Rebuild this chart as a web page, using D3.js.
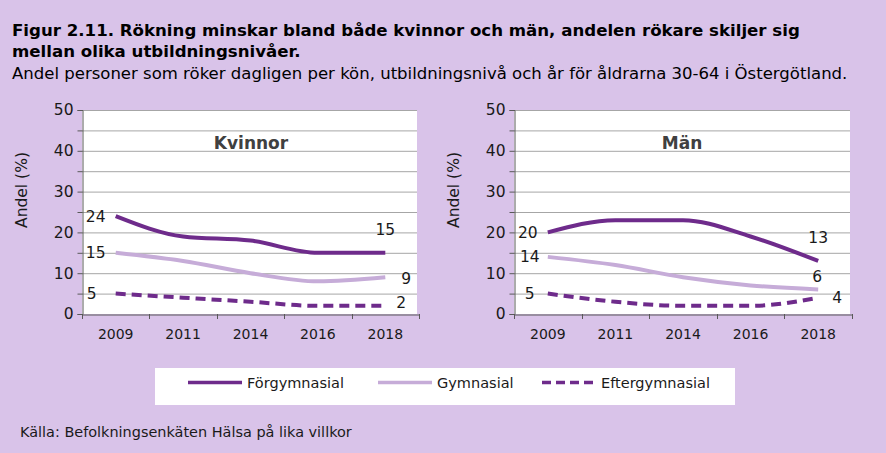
<!DOCTYPE html>
<html><head><meta charset="utf-8">
<script src="https://cdn.jsdelivr.net/npm/d3@7"></script>
<style>
html,body{margin:0;padding:0;background:#d9c3e9;}
svg{display:block;}
text{font-family:"DejaVu Sans",Verdana,sans-serif;}
</style></head>
<body>
<svg id="chart" width="886" height="453"></svg>
<script>
// ---- data ----
const years = ["2009","2011","2014","2016","2018"];
const seriesNames = ["Förgymnasial","Gymnasial","Eftergymnasial"];
const panelTitles = ["Kvinnor","Män"];
const kvinnorForgymnasial = [24,19,18,15,15];
const kvinnorGymnasial = [15,13,10,8,9];
const kvinnorEftergymnasial = [5,4,3,2,2];
const manForgymnasial = [20,23,23,19,13];
const manGymnasial = [14,12,9,7,6];
const manEftergymnasial = [5,3,2,2,4];
const yTicks = [0,10,20,30,40,50];
const yMinor = [5,15,25,35,45];
const titleLines = ["Figur 2.11. Rökning minskar bland både kvinnor och män, andelen rökare skiljer sig","mellan olika utbildningsnivåer."];
const subtitle = "Andel personer som röker dagligen per kön, utbildningsnivå och år för åldrarna 30-64 i Östergötland.";
const source = "Källa: Befolkningsenkäten Hälsa på lika villkor";
const yTitle = "Andel (%)";

// ---- style ----
const colors = ["#6e2b8b","#c6acd8","#6e2b8b"];
const dashes = [null,null,"10,6"];
const svg = d3.select("#chart");
const W=886,H=453;
svg.append("rect").attr("width",W).attr("height",H).attr("fill","#d9c3e9");

function fitText(sel, target){
  const n = sel.node(); const fs = parseFloat(sel.attr("font-size"));
  const w = n.getComputedTextLength();
  const nf = fs*target/w;
  sel.attr("font-size", nf.toFixed(2));
  return nf;
}
const tfs = fitText(svg.append("text").attr("x",12).attr("y",36).attr("font-size",16).attr("font-weight","bold").attr("fill","#000").text(titleLines[0]), 788);
svg.append("text").attr("x",12).attr("y",57).attr("font-size",tfs.toFixed(2)).attr("font-weight","bold").attr("fill","#000").text(titleLines[1]);
fitText(svg.append("text").attr("x",12).attr("y",79).attr("font-size",16).attr("fill","#000").text(subtitle), 836);
fitText(svg.append("text").attr("x",20).attr("y",437).attr("font-size",14).attr("fill","#1a1a1a").text(source), 332);

const panels = [
  {x0:82, x1:419, title:panelTitles[0], titleX:251, ytx:27,
   data:[kvinnorForgymnasial,kvinnorGymnasial,kvinnorEftergymnasial],
   off:[[-20,0,0,-23],[-20,0,21,1],[-24,0,16,-3]]},
  {x0:514, x1:852, title:panelTitles[1], titleX:682, ytx:459,
   data:[manForgymnasial,manGymnasial,manEftergymnasial],
   off:[[-20,0,0,-23],[-18,0,-1,-12.5],[-18,0,19,0]]}
];
const yTop=110, yBot=314;
const y = d3.scaleLinear().domain([0,50]).range([yBot,yTop]);

panels.forEach(p=>{
  const g = svg.append("g");
  const x = d3.scaleBand().domain(years).range([p.x0,p.x1]).padding(0);
  const cx = d=>x(d)+x.bandwidth()/2;
  g.append("rect").attr("x",p.x0).attr("y",yTop).attr("width",p.x1-p.x0-2).attr("height",yBot-yTop).attr("fill","#fff");
  g.selectAll(".grid").data(yTicks.concat(yMinor).filter(v=>v>0)).enter().append("line")
    .attr("x1",p.x0).attr("x2",p.x1-2).attr("y1",d=>y(d)+0.5).attr("y2",d=>y(d)+0.5)
    .attr("stroke","#a6a6a6").attr("stroke-width",1);
  const ya = g.append("g").attr("transform",`translate(${p.x0+0.5},0)`)
    .call(d3.axisLeft(y).tickValues(yTicks.concat(yMinor).sort((a,b)=>a-b)).tickSize(5).tickFormat(d=>yTicks.includes(d)?d:""));
  ya.select(".domain").attr("stroke","#595959");
  ya.selectAll(".tick line").attr("stroke","#595959");
  ya.selectAll(".tick text").attr("font-size",15.5).attr("fill","#1a1a1a").attr("x",-9).style("font-family","DejaVu Sans");
  const xa = g.append("g").attr("transform",`translate(0,${yBot+0.5})`)
    .call(d3.axisBottom(x).tickSize(0).tickSizeOuter(0));
  xa.select(".domain").attr("stroke","#595959");
  xa.selectAll(".tick text").attr("font-size",14).attr("fill","#1a1a1a").attr("dy","1.55em").style("font-family","DejaVu Sans");
  g.selectAll(".xt").data(years.concat(["end"])).enter().append("line")
    .attr("x1",(d,i)=>Math.round(p.x0+i*x.step())+0.5).attr("x2",(d,i)=>Math.round(p.x0+i*x.step())+0.5)
    .attr("y1",yBot).attr("y2",yBot+5).attr("stroke","#595959");
  const yt = g.append("text").attr("transform",`translate(${p.ytx},190) rotate(-90)`).attr("text-anchor","middle")
    .attr("font-size",15).attr("fill","#1a1a1a").text(yTitle);
  fitText(yt, 76);
  g.append("text").attr("x",p.titleX).attr("y",149).attr("text-anchor","middle")
    .attr("font-size",17).attr("font-weight","bold").attr("fill","#404040").text(p.title);
  const line = d3.line().x((d,i)=>cx(years[i])).y(d=>y(d)).curve(d3.curveMonotoneX);
  [1,2,0].forEach(si=>{
    g.append("path").attr("d",line(p.data[si])).attr("fill","none").attr("stroke",colors[si])
      .attr("stroke-width",4).attr("stroke-dasharray",dashes[si]).attr("stroke-linejoin","round");
  });
  p.data.forEach((arr,si)=>{
    const o = p.off[si];
    [[0,o[0],o[1]],[arr.length-1,o[2],o[3]]].forEach(([i,dx,dy])=>{
      g.append("text").attr("x",cx(years[i])+dx).attr("y",y(arr[i])+dy).attr("dy","0.35em")
        .attr("text-anchor","middle").attr("font-size",15.5).attr("fill","#1a1a1a").text(arr[i]);
    });
  });
});

// legend
const lg = svg.append("g");
lg.append("rect").attr("x",155).attr("y",368).attr("width",580).attr("height",37).attr("fill","#fff");
const legX = [188,378,542];
seriesNames.forEach((s,i)=>{
  lg.append("line").attr("x1",legX[i]).attr("x2",legX[i]+54).attr("y1",382.5).attr("y2",382.5)
    .attr("stroke",colors[i]).attr("stroke-width",3.5).attr("stroke-dasharray",i===2?"9,5":null);
  const t = lg.append("text").attr("x",legX[i]+59).attr("y",383).attr("dy","0.35em").attr("font-size",14)
    .attr("fill","#1a1a1a").text(s);
  if(i===0){ const fs = fitText(t, 97); lg.selectAll("text").attr("font-size",fs.toFixed(2)); }
  else t.attr("font-size", lg.select("text").attr("font-size"));
});
</script>
</body></html>
